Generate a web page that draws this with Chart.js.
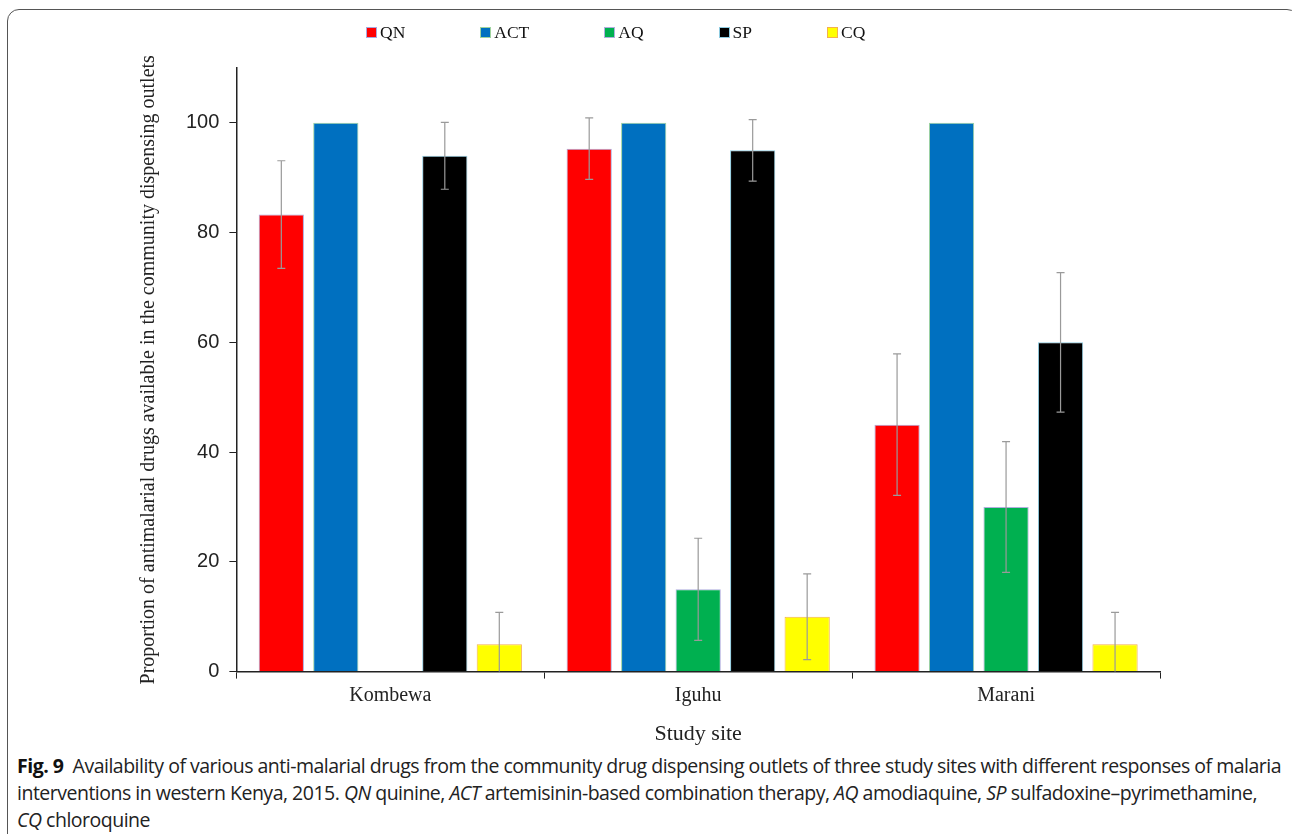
<!DOCTYPE html>
<html>
<head>
<meta charset="utf-8">
<script src="https://cdn.jsdelivr.net/npm/chart.js@4/dist/chart.umd.min.js"></script>
<style>
  html, body { margin: 0; padding: 0; background: #fff; overflow: hidden; }
  body { width: 1292px; height: 834px; position: relative; }
  .frame {
    position: absolute; left: 7px; top: 9px; width: 1292px; height: 900px;
    border: 1.5px solid #555; border-radius: 12px; box-sizing: border-box;
  }
  #chart-wrap { position: absolute; left: 0; top: 0; width: 1292px; height: 750px; }
  .legend {
    position: absolute; top: 22px; left: 366px; display: flex; align-items: center;
    font-family: "Liberation Serif", "Times New Roman", serif; font-size: 17.5px; color: #111;
  }
  .legend-item { display: flex; align-items: center; margin-right: 75px; }
  .legend-box { width: 11px; height: 11px; box-sizing: border-box; border: 1px solid; margin-right: 3px; }
  .caption {
    position: absolute; left: 17px; top: 752px; font-family: "Open Sans", "Noto Sans", sans-serif;
    font-size: 19.5px; line-height: 27px; color: #222; white-space: nowrap; letter-spacing: -0.5px;
  }
  .caption b { font-weight: 700; color: #111; }
</style>
</head>
<body>
<div class="frame"></div>
<div id="chart-wrap"><canvas id="drug-chart"></canvas></div>
<div class="legend" id="legend"></div>
<div class="caption">
  <b>Fig. 9</b>&nbsp; Availability of various anti-malarial drugs from the community drug dispensing outlets of three study sites with different responses of malaria<br>
  interventions in western Kenya, 2015. <i>QN</i> quinine, <i>ACT</i> artemisinin-based combination therapy, <i>AQ</i> amodiaquine, <i>SP</i> sulfadoxine–pyrimethamine,<br>
  <i>CQ</i> chloroquine
</div>
<script>
// 연구 지역별 항말라리아제 보유 비율
let siteList = ['Kombewa', 'Iguhu', 'Marani'];
let drugList = ['QN', 'ACT', 'AQ', 'SP', 'CQ'];

let qnValues = [83.3, 95.3, 45];
let actValues = [100, 100, 100];
let aqValues = [0, 15, 30];
let spValues = [94, 95, 60];
let cqValues = [5, 10, 5];

// 오차 막대
let qnErrors = [9.8, 5.6, 12.9];
let actErrors = [0, 0, 0];
let aqErrors = [0, 9.3, 11.9];
let spErrors = [6.1, 5.6, 12.7];
let cqErrors = [5.8, 7.8, 5.8];

let yTicks = [0, 20, 40, 60, 80, 100];

let fillColors = ['#ff0000', '#0070c0', '#00b050', '#000000', '#ffff00'];
let edgeColors = ['#a9a8dc', '#9ed39e', '#b0aede', '#8ecbe0', '#f4b04c'];

let valueList = [qnValues, actValues, aqValues, spValues, cqValues];
let errorList = [qnErrors, actErrors, aqErrors, spErrors, cqErrors];

let serif = '"Liberation Serif", "Times New Roman", serif';

// 범례 생성
let legend = document.getElementById('legend');
drugList.forEach(function (drug, i) {
    let item = document.createElement('div');
    item.className = 'legend-item';
    item.innerHTML = '<span class="legend-box" style="background:' + fillColors[i] +
        ';border-color:' + edgeColors[i] + '"></span><span>' + drug + '</span>';
    legend.appendChild(item);
});

let datasets = drugList.map(function (drug, i) {
    return {
        label: drug,
        data: valueList[i],
        errors: errorList[i],
        backgroundColor: fillColors[i],
        borderColor: edgeColors[i],
        borderWidth: 1,
        categoryPercentage: 0.885,
        barPercentage: 0.83
    };
});

// 오차 막대 그리기
let errorBarPlugin = {
    id: 'errorBars',
    afterDatasetsDraw: function (chart) {
        let ctx = chart.ctx;
        let yScale = chart.scales.y;
        ctx.save();
        ctx.strokeStyle = '#9a9a9a';
        ctx.lineWidth = 1.2;
        chart.data.datasets.forEach(function (ds, di) {
            let meta = chart.getDatasetMeta(di);
            meta.data.forEach(function (bar, i) {
                let err = ds.errors[i];
                if (!err) return;
                let v = ds.data[i];
                let top = yScale.getPixelForValue(v + err);
                let bottom = yScale.getPixelForValue(Math.max(0, v - err));
                ctx.beginPath();
                ctx.moveTo(bar.x, top);
                ctx.lineTo(bar.x, bottom);
                ctx.moveTo(bar.x - 4, top);
                ctx.lineTo(bar.x + 4, top);
                if (v - err > 0) {
                    ctx.moveTo(bar.x - 4, bottom);
                    ctx.lineTo(bar.x + 4, bottom);
                }
                ctx.stroke();
            });
        });
        ctx.restore();
    }
};

let canvas = document.getElementById('drug-chart');
new Chart(canvas.getContext('2d'), {
    type: 'bar',
    data: { labels: siteList, datasets: datasets },
    options: {
        responsive: true,
        maintainAspectRatio: false,
        animation: false,
        layout: { padding: { left: 137, right: 132, top: 68, bottom: 3 } },
        plugins: {
            legend: { display: false },
            tooltip: { enabled: false }
        },
        scales: {
            x: {
                grid: { drawOnChartArea: false, drawTicks: true, tickLength: 7, tickColor: '#222', offset: true },
                border: { color: '#222', width: 1.5 },
                ticks: { color: '#222', padding: 5, font: { family: serif, size: 20 } },
                title: { display: true, text: 'Study site', color: '#222', padding: { top: 8, bottom: 0 },
                    font: { family: serif, size: 22 } }
            },
            y: {
                min: 0,
                max: 110,
                afterBuildTicks: function (scale) {
                    scale.ticks = yTicks.map(function (t) { return { value: t }; });
                },
                grid: { drawOnChartArea: false, drawTicks: true, tickLength: 7, tickColor: '#222' },
                border: { color: '#222', width: 1.5 },
                ticks: { color: '#222', padding: 10, font: { family: '"Liberation Sans", Arial, sans-serif', size: 20 } },
                title: { display: true, text: 'Proportion of antimalarial drugs available in the community dispensing outlets',
                    color: '#222', padding: { top: 0, bottom: 15 }, font: { family: serif, size: 20 } }
            }
        }
    },
    plugins: [errorBarPlugin]
});
</script>
</body>
</html>
